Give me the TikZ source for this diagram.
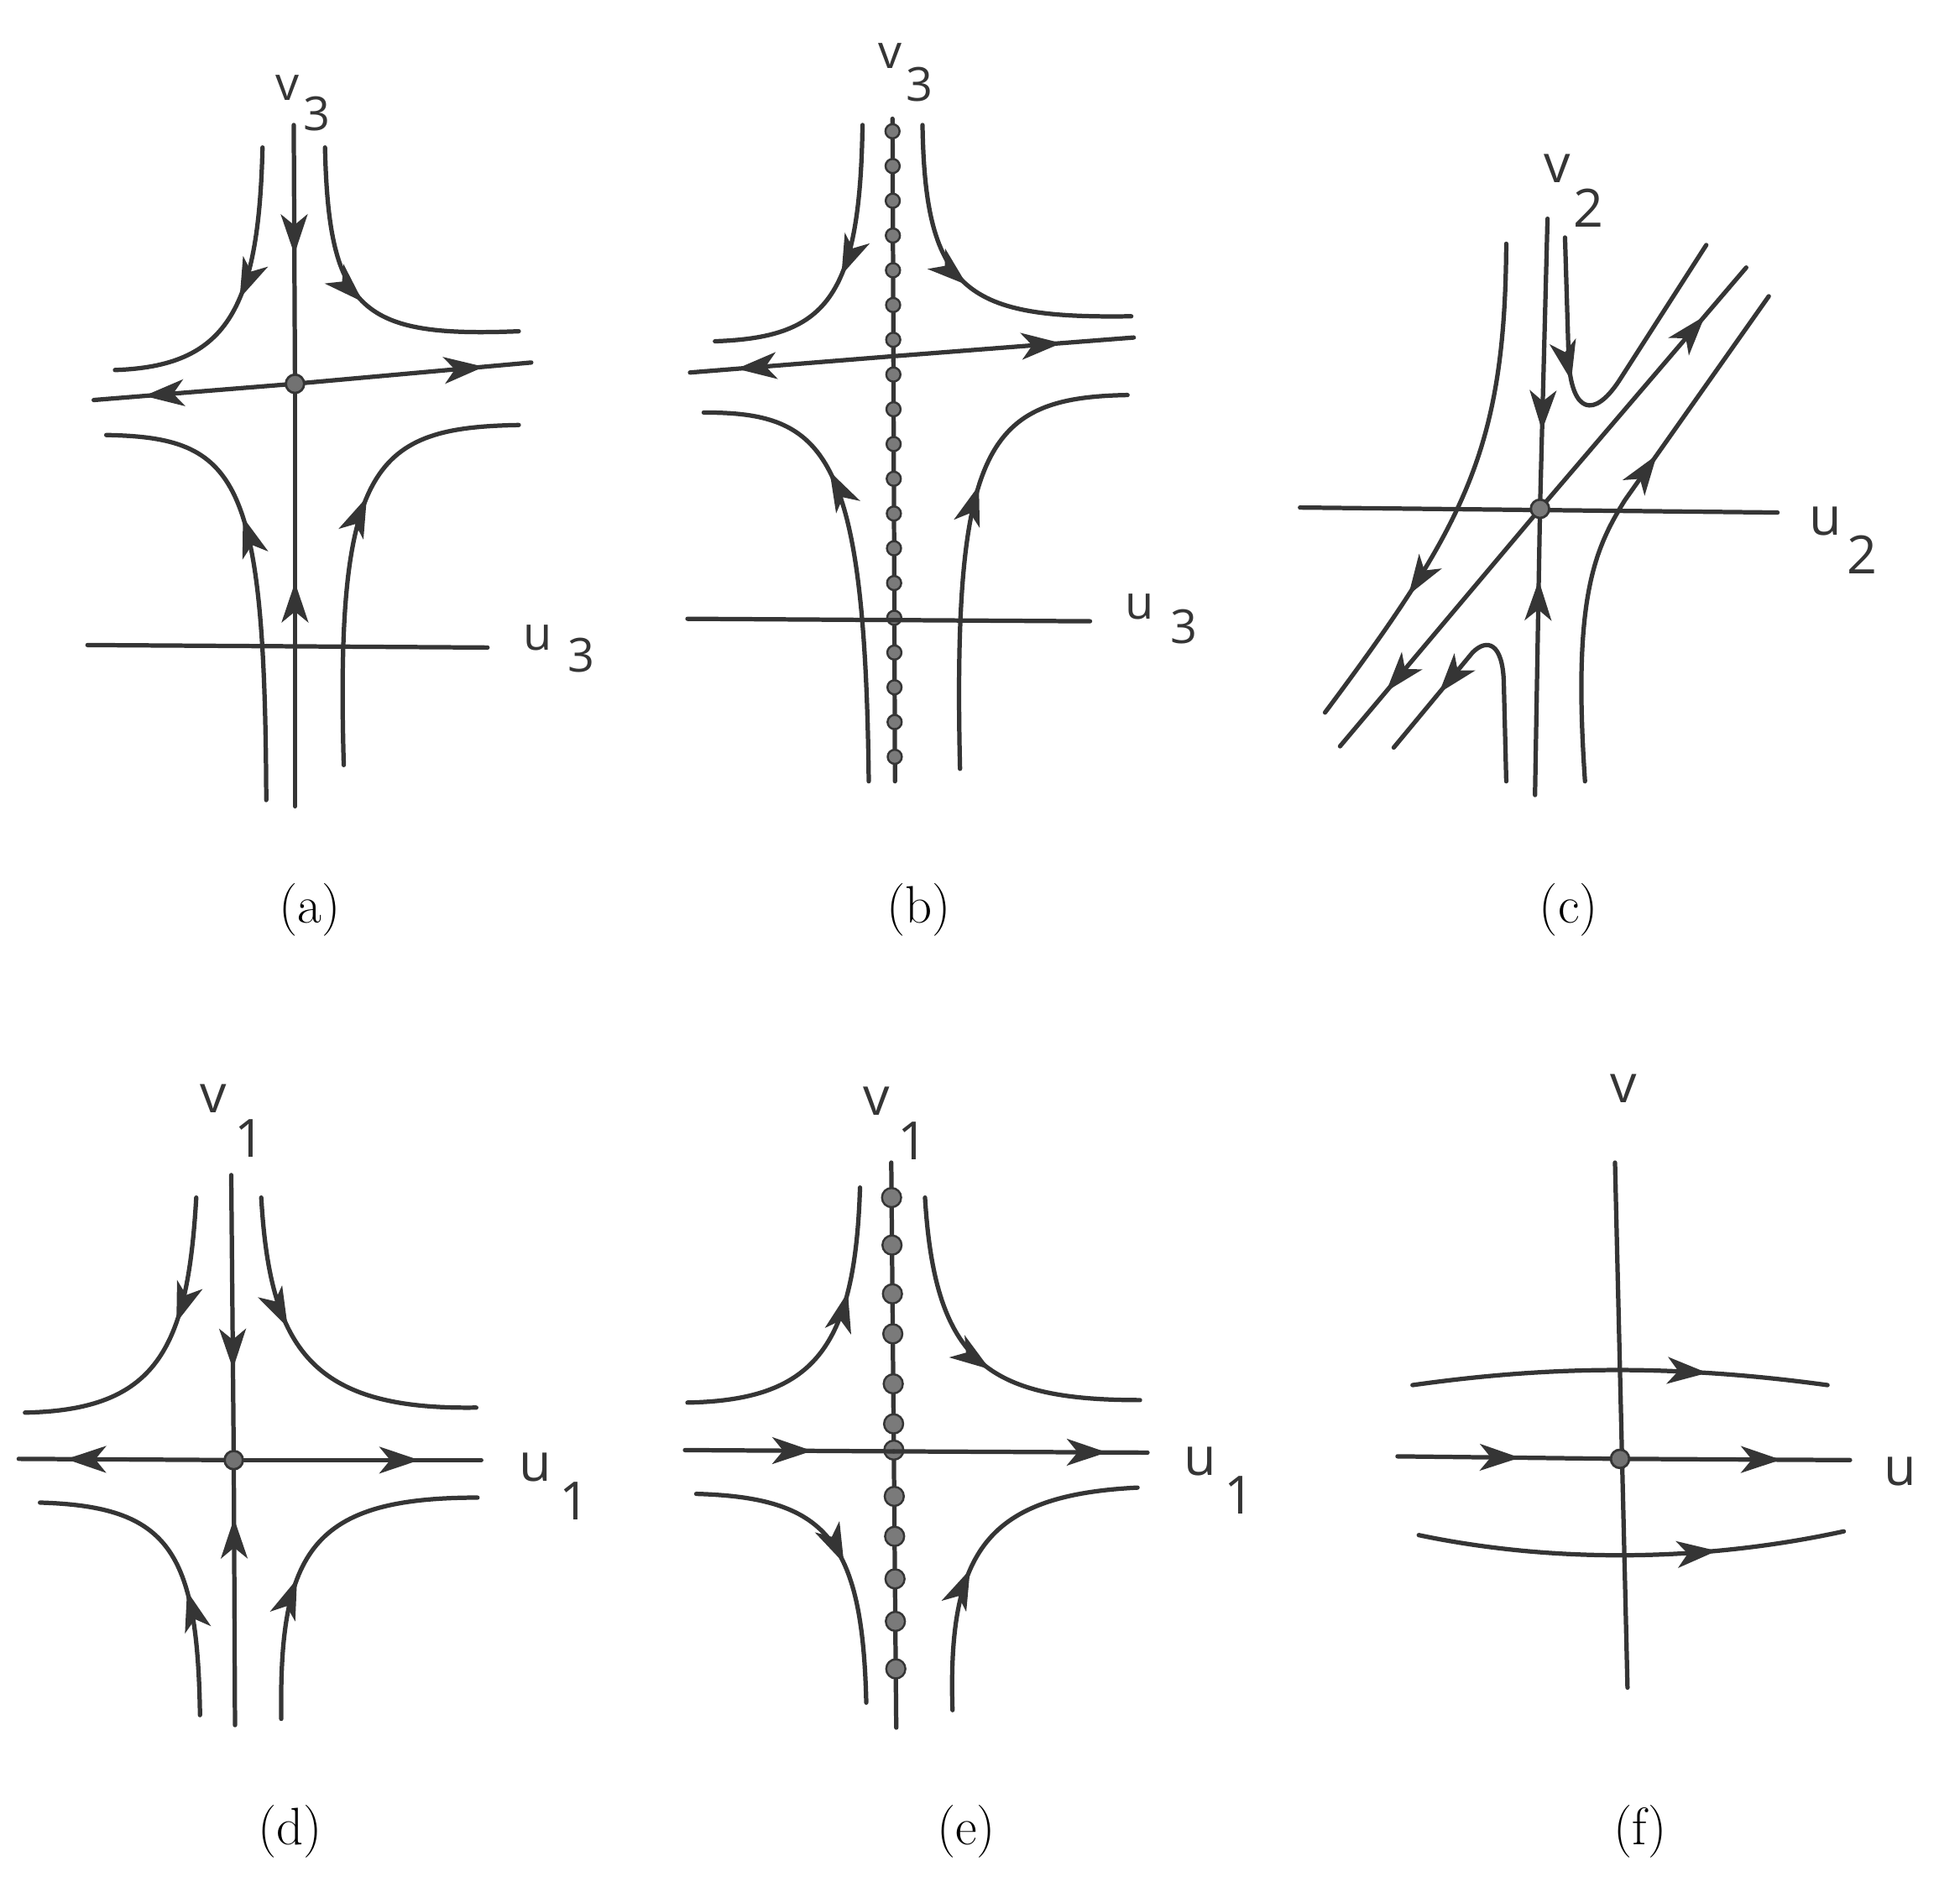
\documentclass[tikz,border=0pt]{standalone}
\usepackage{fontspec}
\newfontfamily\axisfont{Open Sans}
\usetikzlibrary{arrows.meta,decorations.markings}
\definecolor{ink}{HTML}{353535}
\definecolor{beadgray}{HTML}{7A7A7A}

\tikzset{
  traj/.style={line width=1.5pt, color=ink, line cap=round},
  flow/.style={traj, postaction={decorate},
    decoration={markings, mark=at position #1 with {\arrow{Stealth[length=4.8mm,width=3.2mm,inset=1.3mm]}}}},
  fixpt/.style={circle, draw=ink, fill=ink!70, line width=0.8pt, inner sep=0pt, minimum size=2.2mm},
  bead/.style={circle, draw=ink, fill=beadgray, line width=0.7pt, inner sep=0pt, minimum size=1.7mm},
  beadlg/.style={bead, minimum size=2.3mm},
  axlab/.style={anchor=base west, inner sep=0pt, color=ink, font=\axisfont\fontsize{18}{20}\selectfont},
  axlabsm/.style={axlab, font=\axisfont\fontsize{16}{18}\selectfont},
  subcap/.style={font=\fontsize{18}{21}\selectfont}
}

\begin{document}
\begin{tikzpicture}[x=0.015cm, y=-0.015cm]
\useasboundingbox (0,0) rectangle (1568,1518);

% (a) saddle
\coordinate (oa) at (236,307);
\draw[flow=0.5] (235,100) -- (oa);
\draw[flow=0.53] (236,645) -- (oa);
\draw[flow=0.75] (oa) -- (75,320);
\draw[flow=0.8] (oa) -- (425,290);
\draw[traj] (70,516) -- (390,518);
\draw[flow=0.5] (210,118) .. controls (207,250) and (180,293) .. (92,296);
\draw[flow=0.5] (260,118) .. controls (263,250) and (290,270) .. (415,265);
\draw[flow=0.62] (213,640) .. controls (212,380) and (190,350) .. (85,348);
\draw[flow=0.6] (275,612) .. controls (268,370) and (300,342) .. (415,340);
\node[fixpt] (fa) at (oa) {};
\node[axlabsm] (va) at (220,80) {v\kern0.1em\raisebox{-0.65em}{3}};
\node[axlabsm] (ua) at (418,520) {u\kern0.35em\raisebox{-0.47em}{3}};
\node[subcap] (capa) at (248,728) {(a)};

% (b) line of equilibria
\coordinate (ob) at (714,285);
\draw[traj] (714,95) -- (716,625);
\foreach \i in {0,...,18}
  \node[bead] (bb\i) at ({714+0.1*\i},{105+27.8*\i}) {};
\draw[flow=0.77] (ob) -- (552,298);
\draw[flow=0.7] (ob) -- (907,270);
\draw[traj] (550,495) -- (872,497);
\draw[flow=0.5] (690,100) .. controls (688,240) and (660,270) .. (572,273);
\draw[flow=0.5] (738,100) .. controls (740,235) and (775,255) .. (905,253);
\draw[flow=0.68] (695,625) .. controls (692,360) and (660,330) .. (563,330);
\draw[flow=0.6] (768,615) .. controls (762,355) and (790,318) .. (902,316);
\node[axlabsm] (vb) at (702,55) {v\kern0.1em\raisebox{-0.7em}{3}};
\node[axlabsm] (ub) at (900,495) {u\kern0.35em\raisebox{-0.53em}{3}};
\node[subcap] (capb) at (735,728) {(b)};

% (c) skewed saddle
\coordinate (oc) at (1232,407);
\draw[flow=0.73] (1238,175) -- (oc);
\draw[flow=0.75] (1228,636) -- (oc);
\draw[flow=0.8] (oc) -- (1397,214);
\draw[flow=0.77] (oc) -- (1072,597);
\draw[traj] (1040,406) -- (1422,410);
\draw[flow=0.72] (1205,195) .. controls (1204,360) and (1172,420) .. (1060,570);
\draw[flow=0.38] (1252,190) -- (1255,290) .. controls (1258,330) and (1275,335) .. (1295,305) -- (1365,196);
\draw[flow=0.64] (1268,625) .. controls (1258,480) and (1275,440) .. (1300,400) -- (1415,237);
\draw[flow=0.75] (1205,625) -- (1203,545) .. controls (1202,515) and (1190,510) .. (1178,522) -- (1115,598);
\node[fixpt, fill=beadgray] (fc) at (oc) {};
\node[axlab] (vc) at (1235,146) {v\kern0.05em\raisebox{-0.85em}{2}};
\node[axlab] (uc) at (1447,428) {u\kern0.1em\raisebox{-0.73em}{2}};
\node[subcap] (capc) at (1255,728) {(c)};

% (d) saddle, axes aligned
\coordinate (od) at (187,1168);
\draw[flow=0.68] (185,940) -- (od);
\draw[flow=0.78] (188,1380) -- (od);
\draw[flow=0.78] (od) -- (15,1167);
\draw[flow=0.75] (od) -- (385,1168);
\draw[flow=0.4] (157,958) .. controls (150,1080) and (125,1128) .. (20,1130);
\draw[flow=0.38] (209,958) .. controls (216,1080) and (250,1128) .. (381,1126);
\draw[flow=0.4] (160,1372) .. controls (158,1240) and (135,1205) .. (32,1202);
\draw[flow=0.4] (225,1375) .. controls (223,1240) and (250,1198) .. (382,1198);
\node[fixpt] (fd) at (od) {};
\node[axlab] (vd) at (160,890) {v\kern0.15em\raisebox{-0.85em}{1}};
\node[axlab] (ud) at (415,1185) {u\kern0.15em\raisebox{-0.73em}{1}};
\node[subcap] (capd) at (232,1465) {(d)};

% (e) line of equilibria, u flowing right
\coordinate (oe) at (715,1161);
\draw[traj] (713,930) -- (717,1382);
\foreach \y [count=\i] in {958,996,1035,1067,1107,1139,1160,1197,1229,1263,1297,1335}
  \node[beadlg] (be\i) at ({713+(\y-930)*0.009},\y) {};
\draw[flow=0.61] (548,1160) -- (oe);
\draw[flow=0.84] (oe) -- (918,1162);
\draw[flow=0.67] (550,1122) .. controls (650,1120) and (684,1080) .. (688,950);
\draw[flow=0.55] (740,958) .. controls (748,1090) and (790,1120) .. (912,1120);
\draw[flow=0.55] (557,1195) .. controls (660,1198) and (690,1230) .. (693,1362);
\draw[flow=0.42] (762,1368) .. controls (758,1240) and (790,1196) .. (910,1190);
\node[axlab] (ve) at (690,892) {v\kern0.15em\raisebox{-0.85em}{1}};
\node[axlab] (ue) at (947,1180) {u\kern0.15em\raisebox{-0.73em}{1}};
\node[subcap] (cape) at (773,1465) {(e)};

% (f) parallel flow
\coordinate (of) at (1296,1167);
\draw[traj] (1292,930) -- (1302,1350);
\draw[flow=0.55] (1118,1165) -- (of);
\draw[flow=0.7] (of) -- (1480,1168);
\draw[flow=0.71] (1130,1108) .. controls (1230,1094) and (1330,1090) .. (1462,1108);
\draw[flow=0.7] (1135,1228) .. controls (1240,1250) and (1360,1250) .. (1475,1225);
\node[fixpt] (ff) at (of) {};
\node[axlab] (vf) at (1288,882) {v};
\node[axlab] (uf) at (1507,1188) {u};
\node[subcap] (capf) at (1312,1465) {(f)};
\end{tikzpicture}
\end{document}
